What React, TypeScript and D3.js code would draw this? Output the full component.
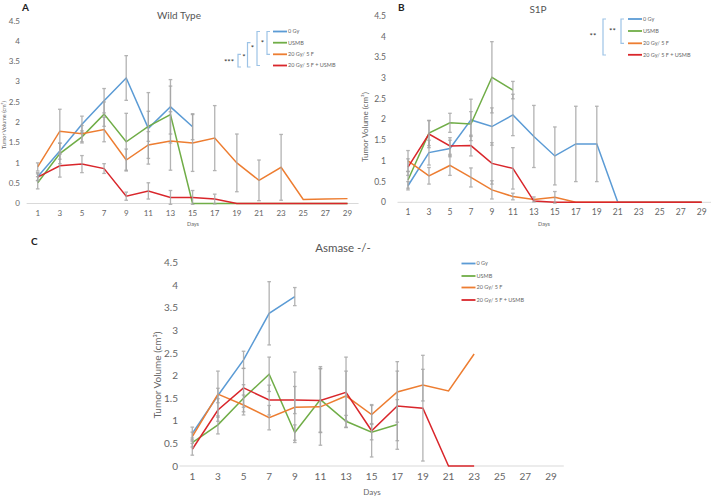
import React from "react";
import * as d3 from "d3";

const days = [1, 3, 5, 7, 9, 11, 13, 15, 17, 19, 21, 23, 25, 27, 29];
const yTicks = [0, 0.5, 1, 1.5, 2, 2.5, 3, 3.5, 4, 4.5];
const seriesNames = ["0 Gy", "USMB", "20 Gy/ 5 F", "20 Gy/ 5 F + USMB"];
const colors = ["#5b9bd5", "#70ad47", "#ed7d31", "#d9262b"];

// Panel A — Wild Type
const A_0Gy = [0.66, 1.29, 1.95, 2.53, 3.09, 1.85, 2.38, 1.89, null, null, null, null, null, null, null];
const A_USMB = [0.51, 1.23, 1.64, 2.2, 1.52, 1.9, 2.19, 0, 0, 0, 0, 0, 0, 0, 0];
const A_20Gy = [0.9, 1.78, 1.72, 1.82, 1.07, 1.44, 1.54, 1.49, 1.61, 1.0, 0.57, 0.89, 0.1, 0.11, 0.12];
const A_combo = [0.65, 0.93, 0.97, 0.86, 0.18, 0.31, 0.15, 0.15, 0.11, 0, 0, 0, 0, 0, 0];
const A_0Gy_err = [0.1, 0.2, 0.2, 0.3, 0.55, 0.88, 0.67, 0.32];
const A_USMB_err = [0.15, 0.25, 0.15, 0.3, 0.7, 0.37, 0.7, 0];
const A_20Gy_err = [0.1, 0.54, 0.2, 0.3, 0.27, 0.33, 0.72, 0.7, 0.8, 0.71, 0.5, 0.81, 0, 0, 0];
const A_combo_err = [0.08, 0.28, 0.21, 0.12, 0.1, 0.2, 0.17, 0.17, 0.12, 0, 0, 0, 0, 0, 0];

// Panel B — S1P
const B_0Gy = [0.4, 1.2, 1.3, 1.99, 1.83, 2.11, 1.59, 1.12, 1.41, 1.41, 0, 0, 0, 0, 0];
const B_USMB = [0.54, 1.67, 1.92, 1.89, 3.02, 2.71, null, null, null, null, null, null, null, null, null];
const B_20Gy = [1.0, 0.64, 0.89, 0.6, 0.3, 0.14, 0.07, 0.12, 0, 0, 0, 0, 0, 0, 0];
const B_combo = [0.85, 1.65, 1.36, 1.37, 0.94, 0.82, 0.03, 0, 0, 0, 0, 0, 0, 0, 0];
const B_0Gy_err = [0.1, 0.3, 0.2, 0.5, 0.45, 0.5, 0.75, 0.7, 0.91, 0.91, 0, 0, 0, 0, 0];
const B_USMB_err = [0.2, 0.3, 0.23, 0.3, 0.86, 0.21];
const B_20Gy_err = [0.25, 0.2, 0.24, 0.23, 0.22, 0.08, 0.06, 0.14, 0, 0, 0, 0, 0, 0, 0];
const B_combo_err = [0.2, 0.33, 0.2, 0.25, 0.5, 0.5, 0, 0, 0, 0, 0, 0, 0, 0, 0];

// Panel C — Asmase -/-
const C_0Gy = [0.72, 1.56, 2.35, 3.38, 3.75, null, null, null, null, null, null, null, null, null, null];
const C_USMB = [0.52, 0.91, 1.5, 2.03, 0.74, 1.47, 0.99, 0.75, 0.92, null, null, null, null, null, null];
const C_20Gy = [0.65, 1.59, 1.35, 1.07, 1.3, 1.31, 1.55, 1.14, 1.64, 1.79, 1.66, 2.48, null, null, null];
const C_combo = [0.37, 1.24, 1.73, 1.46, 1.46, 1.45, 1.63, 0.78, 1.33, 1.28, 0, 0, null, null, null];
const C_0Gy_err = [0.14, 0.16, 0.19, 0.7, 0.2];
const C_USMB_err = [0.1, 0.2, 0.3, 0.38, 0.17, 0.73, 0.13, 0.17, 0.55];
const C_20Gy_err = [0.1, 0.51, 0.22, 0.27, 0.78, 0.85, 0.55, 0.2, 0.67, 0.35, 0, 0];
const C_combo_err = [0.13, 0.25, 0.43, 0.33, 0.3, 0.7, 0.78, 0.58, 0.77, 1.17, 0, 0];

const FONT = "Lato, 'Open Sans', sans-serif";

type PanelCfg = {
  letter: string;
  letterX: number;
  letterY: number;
  title: string;
  titleX: number;
  titleY: number;
  titleSize: number;
  x0: number;
  x1: number;
  y0: number;
  y1: number;
  tickSize: number;
  tickRight: number;
  xTickY: number;
  daysY: number;
  daysX: number;
  daysSize: number;
  yLabX: number;
  yLabY: number;
  yLabSize: number;
  values: (number | null)[][];
  errs: number[][];
  legX: number;
  legYs: number[];
  legSize: number;
};

function Panel({ c }: { c: PanelCfg }) {
  const x = d3.scaleLinear().domain([1, 29]).range([c.x0, c.x1]);
  const y = d3.scaleLinear().domain([0, 4.5]).range([c.y0, c.y1]);
  const half = (x(3) - x(1)) / 2;
  const line = d3
    .line<number | null>()
    .defined((d) => d !== null)
    .x((_, i) => x(days[i]))
    .y((d) => y(d as number));
  return (
    <g fontFamily={FONT}>
      <text x={c.letterX} y={c.letterY} fontSize={10} fontWeight="bold" fill="#222">
        {c.letter}
      </text>
      <text x={c.titleX} y={c.titleY} fontSize={c.titleSize} textAnchor="middle" fill="#555">
        {c.title}
      </text>
      <line x1={c.x0 - half} x2={c.x1 + half} y1={y(0)} y2={y(0)} stroke="#d9d9d9" strokeWidth={1} />
      {yTicks.map((t) => (
        <text key={t} x={c.tickRight} y={y(t)} dy="0.35em" fontSize={c.tickSize} textAnchor="end" fill="#666">
          {t}
        </text>
      ))}
      {days.map((dd) => (
        <text key={dd} x={x(dd)} y={c.xTickY} fontSize={c.tickSize} textAnchor="middle" fill="#666">
          {dd}
        </text>
      ))}
      <text x={c.daysX} y={c.daysY} fontSize={c.daysSize} textAnchor="middle" fill="#666">
        Days
      </text>
      <text
        transform={`translate(${c.yLabX},${c.yLabY}) rotate(-90)`}
        fontSize={c.yLabSize}
        textAnchor="middle"
        dy="0.35em"
        fill="#666"
      >
        Tumor Volume (cm³)
      </text>
      {c.values.map((vals, si) => (
        <path key={"l" + si} d={line(vals) || ""} fill="none" stroke={colors[si]} strokeWidth={1.5} />
      ))}
      {c.values.map((vals, si) =>
        vals.map((v, i) => {
          const e = c.errs[si][i];
          if (v === null || !e) return null;
          const xx = x(days[i]);
          return (
            <g key={`e${si}-${i}`} stroke="#a6a6a6" strokeWidth={1.3} opacity={0.85}>
              <line x1={xx} x2={xx} y1={y(v - e)} y2={y(v + e)} />
              <line x1={xx - 1.8} x2={xx + 1.8} y1={y(v - e)} y2={y(v - e)} />
              <line x1={xx - 1.8} x2={xx + 1.8} y1={y(v + e)} y2={y(v + e)} />
            </g>
          );
        })
      )}
      {seriesNames.map((n, i) => (
        <g key={n}>
          <line x1={c.legX} x2={c.legX + 14} y1={c.legYs[i]} y2={c.legYs[i]} stroke={colors[i]} strokeWidth={1.8} />
          <text x={c.legX + 15} y={c.legYs[i]} dy="0.35em" fontSize={c.legSize} fill="#666">
            {n}
          </text>
        </g>
      ))}
    </g>
  );
}

function Bracket({ x, yTop, yBot, label, lx, ly }: { x: number; yTop: number; yBot: number; label: string; lx: number; ly: number }) {
  return (
    <g>
      <path d={`M${x + 3},${yTop} H${x} V${yBot} H${x + 3}`} fill="none" stroke="#9dc3e6" strokeWidth={1.2} />
      <text x={lx} y={ly} dy="0.35em" fontSize={8} textAnchor="middle" fill="#333" fontFamily={FONT}>
        {label}
      </text>
    </g>
  );
}

const panelA: PanelCfg = {
  letter: "A", letterX: 22, letterY: 11,
  title: "Wild Type", titleX: 179, titleY: 19, titleSize: 10,
  x0: 37.7, x1: 347.5, y0: 203.5, y1: 20.7,
  tickSize: 8, tickRight: 20, xTickY: 216, daysY: 226, daysX: 193, daysSize: 5.5,
  yLabX: 4, yLabY: 125, yLabSize: 5.5,
  values: [A_0Gy, A_USMB, A_20Gy, A_combo],
  errs: [A_0Gy_err, A_USMB_err, A_20Gy_err, A_combo_err],
  legX: 273, legYs: [31.5, 42.7, 54.3, 65.5], legSize: 5.5,
};

const panelB: PanelCfg = {
  letter: "B", letterX: 398, letterY: 11,
  title: "S1P", titleX: 538, titleY: 13, titleSize: 10,
  x0: 408, x1: 701.7, y0: 202.3, y1: 16,
  tickSize: 8.5, tickRight: 386, xTickY: 215, daysY: 226, daysX: 544, daysSize: 5.5,
  yLabX: 365, yLabY: 127, yLabSize: 8,
  values: [B_0Gy, B_USMB, B_20Gy, B_combo],
  errs: [B_0Gy_err, B_USMB_err, B_20Gy_err, B_combo_err],
  legX: 628, legYs: [19, 31, 43.3, 54.8], legSize: 5.5,
};

const panelC: PanelCfg = {
  letter: "C", letterX: 31, letterY: 245,
  title: "Asmase -/-", titleX: 343, titleY: 252, titleSize: 11.5,
  x0: 192.3, x1: 551, y0: 466, y1: 262.7,
  tickSize: 10, tickRight: 178, xTickY: 480, daysY: 495, daysX: 372, daysSize: 8,
  yLabX: 157, yLabY: 375, yLabSize: 10,
  values: [C_0Gy, C_USMB, C_20Gy, C_combo],
  errs: [C_0Gy_err, C_USMB_err, C_20Gy_err, C_combo_err],
  legX: 461.5, legYs: [263.5, 276, 287.5, 300], legSize: 5.5,
};

export default function App() {
  return (
    <svg width={711} height={499} style={{ position: "absolute", left: 0, top: 0, background: "#fff" }}>
      <rect width={711} height={499} fill="#fff" />
      <Panel c={panelA} />
      <Panel c={panelB} />
      <Panel c={panelC} />
      {/* Significance brackets — panel A */}
      <Bracket x={267} yTop={31.5} yBot={54.3} label="*" lx={262.5} ly={43} />
      <Bracket x={257} yTop={31.5} yBot={65.5} label="*" lx={252.5} ly={48.5} />
      <Bracket x={247.5} yTop={42.7} yBot={67} label="*" lx={244} ly={57} />
      <Bracket x={238} yTop={54.3} yBot={67} label="***" lx={229} ly={62.5} />
      {/* Panel B */}
      <Bracket x={621} yTop={19} yBot={43.3} label="**" lx={612.5} ly={31} />
      <Bracket x={603} yTop={19} yBot={55} label="**" lx={593} ly={36} />
    </svg>
  );
}
